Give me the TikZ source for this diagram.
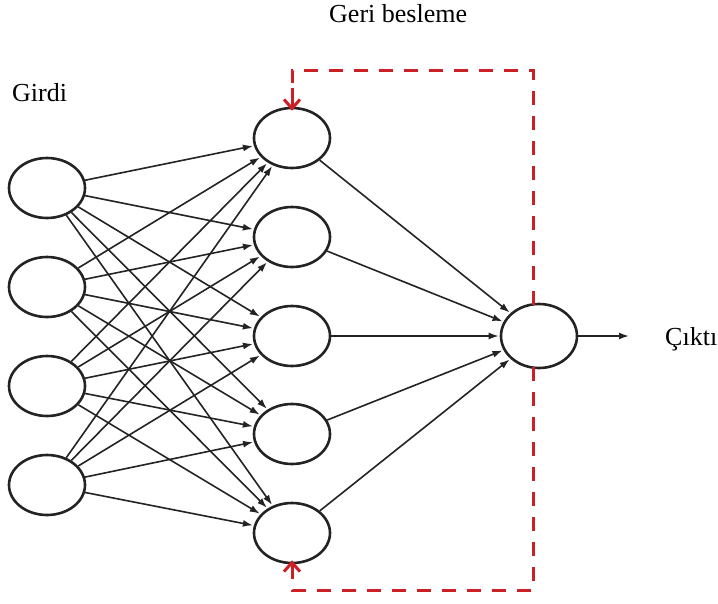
\documentclass[tikz,border=0pt]{standalone}
\usepackage{fontspec}
\setmainfont{Liberation Serif}
\usetikzlibrary{arrows.meta,shapes.geometric}
\definecolor{fbred}{RGB}{204,32,39}
\definecolor{ink}{RGB}{35,35,35}
\begin{document}
\begin{tikzpicture}[x=1pt,y=-1pt,
  neuron/.style={draw=ink, line width=2.6pt, ellipse, minimum width=76pt, minimum height=60pt, inner sep=0pt},
  conn/.style={draw=ink, line width=1.6pt, -{Latex[length=10pt,width=7pt]}, shorten >=1pt},
  fb/.style={draw=fbred, line width=3pt, dash pattern=on 14pt off 11pt},
  fbtip/.style={draw=fbred, line width=3pt, -{Straight Barb[length=9pt,width=16pt]}},
  lbl/.style={font=\fontsize{26}{30}\selectfont, inner sep=0pt, anchor=base west}]
\useasboundingbox (0,0) rectangle (718,603);
\foreach \i/\y in {1/188,2/287,3/386,4/485}
  \node[neuron] (i\i) at (47,\y) {};
\foreach \h/\y in {1/138,2/237,3/336,4/434,5/533}
  \node[neuron] (h\h) at (292,\y) {};
\node[neuron, minimum height=64pt] (o) at (539,336) {};
\foreach \i in {1,...,4}
  \foreach \h in {1,...,5}
    \draw[conn] (i\i) -- (h\h);
\foreach \h in {1,...,5}
  \draw[conn] (h\h) -- (o);
\coordinate (oend) at (630,336);
\draw[conn] (o) -- (oend);
\coordinate (ft) at (533,70);
\coordinate (fb) at (533,590);
\coordinate (ftl) at (292,70);
\coordinate (fbl) at (292,590);
\coordinate (ftt) at (292,88);
\coordinate (fbb) at (292,572);
\draw[fb] ([yshift=-2pt]o.north -| ft) -- (ft) -- (ftl) -- (ftt);
\draw[fb] ([yshift=2pt]o.south -| fb) -- (fb) -- (fbl) -- (fbb);
\draw[fbtip] (ftt) -- ([yshift=-4pt]h1.north);
\draw[fbtip] (fbb) -- ([yshift=4pt]h5.south);
\node[lbl] (tfb) at (329,22) {Geri besleme};
\node[lbl] (tin) at (12,101) {Girdi};
\node[lbl] (tout) at (665,345) {Çıktı};
\end{tikzpicture}
\end{document}
